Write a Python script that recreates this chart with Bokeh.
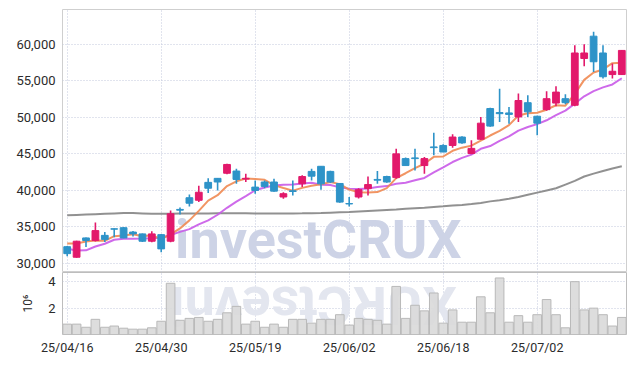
import numpy as np
from bokeh.plotting import figure
from bokeh.models import ColumnDataSource, FixedTicker, NumeralTickFormatter, Range1d, Label
from bokeh.layouts import column
from bokeh.embed import file_html
from bokeh.resources import INLINE

dates = ["25/04/16", "25/04/17", "25/04/18", "25/04/21", "25/04/22", "25/04/23", "25/04/24", "25/04/25",
         "25/04/28", "25/04/29", "25/04/30", "25/05/02", "25/05/07", "25/05/08", "25/05/09", "25/05/12",
         "25/05/13", "25/05/14", "25/05/15", "25/05/16", "25/05/19", "25/05/20", "25/05/21", "25/05/22",
         "25/05/23", "25/05/26", "25/05/27", "25/05/28", "25/05/29", "25/05/30", "25/06/02", "25/06/04",
         "25/06/05", "25/06/09", "25/06/10", "25/06/11", "25/06/12", "25/06/13", "25/06/16", "25/06/17",
         "25/06/18", "25/06/19", "25/06/20", "25/06/23", "25/06/24", "25/06/25", "25/06/26", "25/06/27",
         "25/06/30", "25/07/01", "25/07/02", "25/07/03", "25/07/04", "25/07/07", "25/07/08", "25/07/09",
         "25/07/10", "25/07/11", "25/07/14", "25/07/15"]

open_ = [32300, 30860, 33500, 33150, 33850, 34750, 34900, 34300, 34050, 33050,
         33950, 33050, 37400, 39000, 38650, 41100, 41650, 42350, 42650, 41550,
         40450, 41150, 41150, 39100, 39950, 40900, 42600, 43300, 42600, 40950,
         38200, 39100, 40250, 41500, 41900, 41750, 44350, 44450, 43400, 45950,
         46150, 46150, 47300, 45050, 47000, 51200, 50650, 50600, 50050, 52000,
         50150, 51050, 51950, 52550, 51650, 58050, 61100, 58800, 55850, 55850]
high = [32400, 33100, 33550, 35600, 34300, 34800, 35000, 34450, 34100, 34400,
        34050, 37250, 37650, 39450, 40650, 41650, 41700, 43650, 42970, 42290,
        41370, 41350, 41600, 39750, 41370, 42060, 42970, 43300, 42700, 41000,
        39100, 40280, 41920, 42650, 42000, 45700, 44500, 45710, 44560, 47900,
        46300, 47670, 47400, 46850, 50040, 51300, 53900, 51420, 53250, 53010,
        50200, 53560, 54250, 53150, 59850, 60000, 61690, 59850, 57350, 59200]
low = [31000, 30800, 32250, 33000, 32950, 33600, 33450, 33700, 32950, 32900,
       31550, 32900, 36700, 37800, 38400, 39630, 40000, 42200, 40920, 41140,
       39550, 40300, 39800, 38870, 39320, 40450, 41370, 40100, 41000, 38300,
       37800, 38900, 39320, 40920, 41050, 41600, 43400, 42740, 42290, 44800,
       45250, 45850, 46400, 44950, 46900, 48700, 49350, 49130, 49360, 50050,
       47550, 50900, 51500, 51800, 51500, 56990, 56210, 55300, 55300, 55800]
close = [31350, 33050, 33150, 34500, 33300, 34700, 33500, 34050, 33050, 34050,
         32000, 36800, 37300, 38250, 39750, 40300, 41150, 43550, 41500, 41650,
         40000, 40550, 39900, 39550, 39850, 41900, 41950, 40900, 41150, 38400,
         38150, 40100, 40800, 41400, 41150, 45000, 43400, 44350, 44350, 45850,
         45250, 47300, 46500, 45750, 49200, 48800, 50500, 50400, 52300, 50750,
         49200, 52550, 53450, 52000, 58800, 58800, 57600, 55550, 56300, 59150]

ma5 = [32750, 32750, 33000, 33150, 33100, 33740, 33830, 34010, 33720, 33870,
       33330, 33990, 34800, 35900, 37200, 38600, 39350, 40600, 41250, 41630,
       41570, 41450, 40720, 40330, 39970, 40350, 40630, 40830, 41150, 40860,
       40110, 39740, 39720, 39770, 40320, 41690, 42350, 43060, 43650, 44590,
       44640, 45420, 45850, 46130, 46800, 47510, 48150, 48930, 50240, 50550,
       50630, 51040, 51650, 51590, 53200, 55120, 56130, 56550, 57410, 57480]
ma10 = [32010, 31780, 31800, 32330, 32700, 33250, 33380, 33400, 33420, 33470,
        33535, 33910, 34325, 34700, 35345, 35905, 36670, 37620, 38465, 39225,
        40025, 40400, 40660, 40790, 40800, 40960, 41040, 40775, 40740, 40415,
        40230, 40185, 40275, 40460, 40590, 40900, 41045, 41390, 41710, 42455,
        43165, 43885, 44455, 44890, 45695, 46075, 46785, 47390, 48185, 48675,
        49070, 49595, 50290, 50915, 51875, 52875, 53585, 54100, 54500, 55340]
ma_long = [36600, 36650, 36700, 36750, 36800, 36850, 36900, 36900, 36850, 36800,
           36800, 36820, 36840, 36850, 36850, 36850, 36860, 36860, 36860, 36860,
           36850, 36850, 36850, 36850, 36850, 36860, 36880, 36900, 36950, 37000,
           37050, 37120, 37190, 37260, 37330, 37400, 37480, 37560, 37640, 37730,
           37820, 37920, 38020, 38150, 38290, 38500, 38650, 38850, 39100, 39400,
           39700, 40000, 40300, 40800, 41300, 41900, 42300, 42650, 43000, 43300]

volume_m = [0.87, 0.87, 0.64, 1.22, 0.64, 0.73, 0.57, 0.50, 0.50, 0.60,
            1.08, 3.86, 1.15, 1.29, 1.36, 1.08, 1.22, 1.70, 2.17, 0.87,
            1.08, 0.64, 0.87, 0.64, 1.22, 1.22, 0.94, 1.22, 1.22, 1.56,
            0.80, 1.29, 1.22, 1.15, 0.87, 3.63, 1.29, 2.25, 1.84, 3.15,
            0.94, 1.91, 1.01, 1.01, 2.87, 1.70, 4.25, 1.01, 1.49, 1.01,
            1.56, 2.67, 1.56, 0.60, 3.98, 1.91, 2.04, 1.56, 0.73, 1.36]

price_ticks = [30000, 35000, 40000, 45000, 50000, 55000, 60000]
volume_ticks = [2, 4]
date_tick_idx = [0, 10, 20, 30, 40, 50]

UP = "#e2196b"
DOWN = "#2e93c8"
GRID = "#c3c9dc"
FONT = "Roboto"

x = np.arange(len(dates))
o = np.array(open_)
c = np.array(close)
colors = [UP if cc >= oo else DOWN for oo, cc in zip(open_, close)]
src = ColumnDataSource(dict(
    x=x, high=high, low=low, top=np.maximum(o, c), bottom=np.minimum(o, c),
    color=colors, ma5=ma5, ma10=ma10, ma_long=ma_long, vol=volume_m))

xr = Range1d(-0.5, len(dates) - 0.5)

p = figure(width=627, height=272, x_range=xr, y_range=Range1d(28770, 64750),
           output_backend="svg", toolbar_location=None, x_axis_location=None,
           min_border_left=62, min_border_right=1, min_border_top=9, min_border_bottom=0)
p.outline_line_color = "#cfcfcf"
p.background_fill_color = "white"
for g in (p.xgrid, p.ygrid):
    g.grid_line_color = GRID
    g.grid_line_dash = "1 2"
    g.grid_line_width = 1
p.xgrid.ticker = FixedTicker(ticks=date_tick_idx)
p.yaxis.ticker = FixedTicker(ticks=price_ticks)
p.yaxis.formatter = NumeralTickFormatter(format="0,0")
p.yaxis.axis_line_color = None
p.yaxis.major_tick_line_color = None
p.yaxis.minor_tick_line_color = None
p.yaxis.major_tick_out = 0
p.yaxis.major_label_standoff = 7
p.yaxis.major_label_text_font = FONT
p.yaxis.major_label_text_font_size = "13px"
p.yaxis.major_label_text_color = "#2b2b2b"

wm = Label(x=11.48, y=28980, text="investCRUX", text_font=FONT, text_font_style="bold",
           text_font_size="54px", text_color="#cdd3e6", level="underlay")
p.add_layout(wm)

p.line("x", "ma_long", source=src, line_color="#858585", line_width=2, line_alpha=0.9)
p.line("x", "ma10", source=src, line_color="#c95ae8", line_width=2, line_alpha=0.9)
p.line("x", "ma5", source=src, line_color="#ef8a52", line_width=2, line_alpha=0.9)
p.segment(x0="x", y0="high", x1="x", y1="low", source=src, line_color="color", line_width=1.6)
p.vbar(x="x", top="top", bottom="bottom", width=0.72, source=src,
       fill_color="color", line_color="color", line_width=1)

v = figure(width=627, height=85, x_range=xr, y_range=Range1d(0.11, 4.65),
           output_backend="svg", toolbar_location=None,
           min_border_left=62, min_border_right=1, min_border_top=0, min_border_bottom=20)
v.outline_line_color = "#bdbdbd"
for g in (v.xgrid, v.ygrid):
    g.grid_line_color = GRID
    g.grid_line_dash = "1 2"
    g.grid_line_width = 1
v.xgrid.ticker = FixedTicker(ticks=date_tick_idx)
v.ygrid.ticker = FixedTicker(ticks=volume_ticks)
v.yaxis.ticker = FixedTicker(ticks=volume_ticks)
v.xaxis.ticker = FixedTicker(ticks=date_tick_idx)
v.xaxis.major_label_overrides = {i: dates[i] for i in date_tick_idx}
for ax in (v.xaxis, v.yaxis):
    ax.axis_line_color = None
    ax.major_tick_line_color = None
    ax.minor_tick_line_color = None
    ax.major_tick_out = 0
    ax.major_label_text_font = FONT
    ax.major_label_text_color = "#2b2b2b"
v.xaxis.major_label_text_font_size = "12.5px"
v.xaxis.major_label_standoff = 5
v.yaxis.major_label_text_font_size = "13px"
v.yaxis.major_label_standoff = 7
v.yaxis.axis_label = "10\u2076"
v.yaxis.axis_label_text_font = FONT
v.yaxis.axis_label_text_font_style = "normal"
v.yaxis.axis_label_text_font_size = "12px"
v.yaxis.axis_label_text_color = "#2b2b2b"
v.yaxis.axis_label_standoff = 10

refl = Label(x=41.45, y=4.51, text="XURCtsevni", angle=np.pi, text_font=FONT,
             text_font_style="bold", text_font_size="54px", text_color="#e3e6ef",
             level="underlay")
v.add_layout(refl)

v.vbar(x="x", top="vol", bottom=0, width=0.92, source=src,
       fill_color="#d9d9d9", fill_alpha=0.9, line_color="#b9b9b9", line_width=1)

layout = column(p, v, spacing=0)
open("out.html", "w").write(file_html(layout, INLINE))
